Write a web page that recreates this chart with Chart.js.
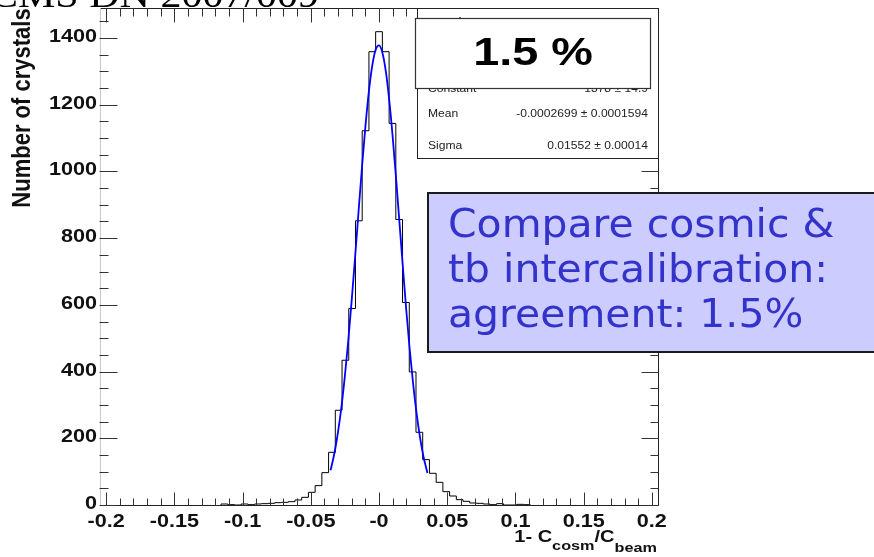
<!DOCTYPE html>
<html><head><meta charset="utf-8">
<script src="https://cdn.jsdelivr.net/npm/chart.js@4.4.1/dist/chart.umd.min.js"></script>
<style>html,body{margin:0;padding:0;background:#fff;}canvas{display:block;}</style>
</head><body>
<canvas id="c" width="874" height="557"></canvas>
<script>
// ---- data ----
const binStart = -0.1158;      // low edge of first drawn bin
const binWidth = 0.004928;
const binCounts = [3,1,0,3,1,3,4,5,7,8,
                   10,15,23,38,58,97,158,284,434,589,
                   852,1122,1359,1419,1359,1144,856,607,399,218,
                   136,95,68,40,27,16,11,6,5,3,
                   1,4,0,0,2,1];
const fitX = [-0.0355,-0.0325,-0.03,-0.0275,-0.025,-0.0225,-0.02,-0.0175,-0.015,-0.0125,-0.01,-0.0075,-0.005,-0.0025,0,
              0.0025,0.005,0.0075,0.01,0.0125,0.015,0.0175,0.02,0.0225,0.025,0.0275,0.03,0.0325,0.0355];
const fitY = [104,159,220,295,387,494,614,744,879,1011,1133,1237,1316,1364,1378,
              1356,1300,1214,1105,980,847,713,584,467,364,276,204,147,96];
const xTickValues = [-0.2,-0.15,-0.1,-0.05,0,0.05,0.1,0.15,0.2];
const xTickLabels = ['-0.2','-0.15','-0.1','-0.05','-0','0.05','0.1','0.15','0.2'];
const yTickValues = [0,200,400,600,800,1000,1200,1400];
const yTickLabels = ['0','200','400','600','800','1000','1200','1400'];
const statsRows = [['Entries','11537'],['Constant','1378 \u00b1 14.9'],['Mean','-0.0002699 \u00b1 0.0001594'],['Sigma','0.01552 \u00b1 0.00014']];
const boxText = '1.5 %';
const noteLines = ['Compare cosmic &','tb intercalibration:','agreement: 1.5%'];
const pageTitle = 'CMS DN 2007/009';
const yTitle = 'Number of crystals';

// ---- build datasets ----
const histPts = [{x: binStart, y: 0}];
binCounts.forEach((c, i) => histPts.push({x: binStart + i * binWidth, y: c}));
histPts.push({x: binStart + binCounts.length * binWidth, y: 0});
const fitPts = fitX.map((x, i) => ({x, y: fitY[i]}));

function txt(ctx, s, x, y, font, color, align, base, sx) {
  ctx.save();
  ctx.translate(x, y);
  ctx.scale(sx || 1, 1);
  ctx.font = font; ctx.fillStyle = color;
  ctx.textAlign = align || 'left'; ctx.textBaseline = base || 'alphabetic';
  ctx.fillText(s, 0, 0);
  ctx.restore();
}

const decor = {
  id: 'decor',
  afterDraw(chart) {
    const ctx = chart.ctx, xs = chart.scales.x, ys = chart.scales.y, a = chart.chartArea;
    const L = Math.round(a.left) + 0.5, R = Math.round(a.right) + 0.5, T = Math.round(a.top) + 0.5, B = Math.round(a.bottom) + 0.5;
    ctx.save();
    ctx.lineWidth = 1;
    // frame
    ctx.strokeStyle = '#222';
    ctx.beginPath();
    ctx.moveTo(L, B); ctx.lineTo(R, B); ctx.lineTo(R, T); ctx.lineTo(L, T);
    ctx.stroke();
    ctx.strokeStyle = '#c8c8c8';
    ctx.beginPath(); ctx.moveTo(L, T); ctx.lineTo(L, B); ctx.stroke();
    // x ticks
    ctx.strokeStyle = '#333';
    ctx.beginPath();
    for (let v = -20; v <= 20; v++) {
      const px = Math.round(xs.getPixelForValue(v / 100)) + 0.5;
      const len = (v % 5 === 0) ? 13 : 7;
      ctx.moveTo(px, B); ctx.lineTo(px, B - len);
      ctx.moveTo(px, T); ctx.lineTo(px, T + len + 1);
    }
    // y ticks
    for (let v = 0; v <= 1450; v += 50) {
      const py = Math.round(ys.getPixelForValue(v)) + 0.5;
      const len = (v % 200 === 0) ? 17 : 8;
      ctx.moveTo(L - 1, py); ctx.lineTo(L + len, py);
      ctx.moveTo(R, py); ctx.lineTo(R - len, py);
    }
    ctx.stroke();
    // tick labels
    xTickValues.forEach((v, i) => {
      txt(ctx, xTickLabels[i], xs.getPixelForValue(v), 527, 'bold 18px "Liberation Sans"', '#111', 'center', 'alphabetic', 1.2);
    });
    yTickValues.forEach((v, i) => {
      txt(ctx, yTickLabels[i], 97, ys.getPixelForValue(v) - 1, 'bold 18px "Liberation Sans"', '#111', 'right', 'middle', 1.2);
    });
    // y title
    ctx.save();
    ctx.translate(30, 108);
    ctx.scale(1.2, 1);
    ctx.rotate(-Math.PI / 2);
    ctx.font = 'bold 22px "Liberation Sans"'; ctx.fillStyle = '#111';
    ctx.textAlign = 'center'; ctx.textBaseline = 'alphabetic';
    ctx.fillText(yTitle, 0, 0);
    ctx.restore();
    // x title: 1- C_cosm / C_beam
    const sx = 1.25;
    const fMain = 'bold 16px "Liberation Sans"', fSub = 'bold 13px "Liberation Sans"';
    const parts = [['1- C', fMain, 0], ['cosm', fSub, 8], ['/C', fMain, 0], ['beam', fSub, 10]];
    let widths = parts.map(p => { ctx.font = p[1]; return ctx.measureText(p[0]).width * sx; });
    let total = widths.reduce((s, w) => s + w, 0);
    let cx = 657 - total;
    parts.forEach((p, i) => { txt(ctx, p[0], cx, 541.5 + p[2], p[1], '#111', 'left', 'alphabetic', sx); cx += widths[i]; });

    // stats box
    ctx.fillStyle = '#fff'; ctx.fillRect(417, 8, R - 417, 150);
    ctx.strokeStyle = '#222';
    ctx.strokeRect(417.5, 8.5, R - 417.5, 150);
    const rowY = [28, 92, 117, 149];
    const rowF = ['15px "Liberation Sans"', '11px "Liberation Sans"', '11px "Liberation Sans"', '11px "Liberation Sans"'];
    statsRows.forEach((r, i) => {
      txt(ctx, r[0], 428, rowY[i], rowF[i], '#222', 'left', 'alphabetic', 1.1);
      txt(ctx, r[1], 648, rowY[i], rowF[i], '#222', 'right', 'alphabetic', 1.1);
    });
    // 1.5 % box
    ctx.fillStyle = '#fff'; ctx.fillRect(415, 18, 236, 71);
    ctx.strokeStyle = '#333'; ctx.lineWidth = 1.2;
    ctx.strokeRect(415.5, 18.5, 235, 70);
    txt(ctx, boxText, 533, 65, 'bold 39px "Liberation Sans"', '#000', 'center', 'alphabetic', 1.2);
    // annotation box
    ctx.fillStyle = '#ccccff'; ctx.fillRect(427, 192, 460, 161);
    ctx.strokeStyle = '#1a1a1a'; ctx.lineWidth = 2;
    ctx.strokeRect(428, 193, 460, 159);
    const ny = [236.5, 281.5, 326.5];
    noteLines.forEach((s, i) => txt(ctx, s, 448, ny[i], '39px "DejaVu Sans"', '#3333cc', 'left', 'alphabetic', 1.05));
    // page title (cut at top)
    txt(ctx, pageTitle, -10, 7, '35px "Liberation Serif"', '#000', 'left', 'alphabetic', 1.2);
    ctx.restore();
  }
};

new Chart(document.getElementById('c'), {
  type: 'line',
  data: {
    datasets: [
      { label: 'fit', data: fitPts, borderColor: '#0000ff', borderWidth: 1.8, pointRadius: 0, fill: false,
        cubicInterpolationMode: 'monotone', order: 0 },
      { label: 'hist', data: histPts, borderColor: '#000', borderWidth: 1, pointRadius: 0, fill: false,
        stepped: 'before', order: 1 }
    ]
  },
  options: {
    responsive: false, animation: false, devicePixelRatio: 1,
    layout: { padding: { left: 100, right: 216, top: 8, bottom: 52 } },
    plugins: { legend: { display: false }, tooltip: { enabled: false } },
    scales: {
      x: { type: 'linear', min: -0.2045, max: 0.2045, display: false },
      y: { type: 'linear', min: 0, max: 1490, display: false }
    }
  },
  plugins: [decor]
});
</script>
</body></html>
